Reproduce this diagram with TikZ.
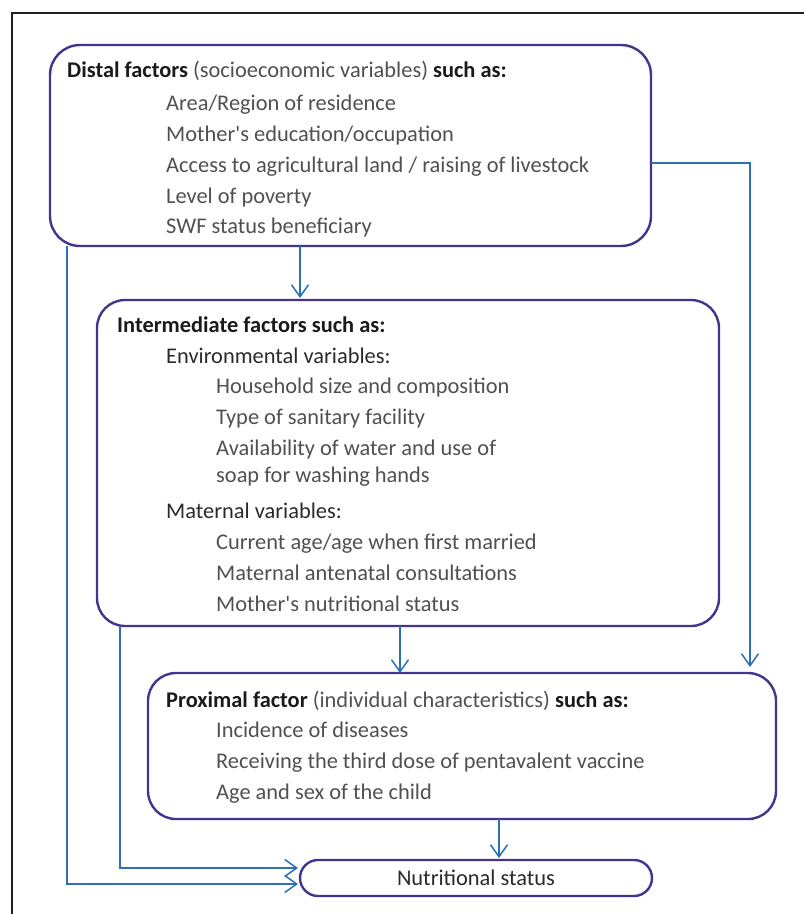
\documentclass[tikz,border=0pt]{standalone}
\usepackage{fontspec}
\setmainfont{Carlito}
\usepackage{xcolor}
\usepackage{tikz}
\usetikzlibrary{arrows.meta,positioning}
\definecolor{rim}{HTML}{231F20}
\definecolor{edge}{HTML}{43348F}
\definecolor{flow}{HTML}{2C6FB5}
\definecolor{ink}{HTML}{1A1A1A}
\definecolor{muted}{HTML}{505050}
\definecolor{dark}{HTML}{2A2A2A}
\newcommand{\bterm}[1]{\textcolor{ink}{\textbf{#1}}}
\tikzset{
  frm/.style={draw=rim, line width=2.4pt},
  box/.style={draw=edge, line width=2.4pt, rounded corners=28pt, inner sep=0pt, outer sep=0pt},
  item/.style={anchor=base west, inner sep=0pt, text=muted, font=\fontsize{22.4}{27}\selectfont},
  sub/.style={item, text=dark},
  arr/.style={draw=flow, line width=1.5pt, -{Straight Barb[length=12pt,width=17pt]}, shorten >=2pt},
}

\begin{document}
\begin{tikzpicture}[x=1pt,y=-1pt]
\useasboundingbox (0,0) rectangle (804,914);
\draw[frm] (12,914) -- (12,13) -- (804,13);

% boxes
\node[box, minimum width=601pt, minimum height=201pt, rounded corners=30pt] (distal) at (350.5,145.5) {};
\node[box, minimum width=622pt, minimum height=326pt] (inter) at (408,463) {};
\node[box, minimum width=628pt, minimum height=146pt] (prox) at (462,746) {};
\node[box, minimum width=352pt, minimum height=36pt, rounded corners=18pt,
  text=dark, font=\fontsize{22.4}{27}\selectfont] (nutr) at (476,878) {Nutritional status};

% distal text
\node[item] (dh) at (67,77) {\bterm{Distal factors} (socioeconomic variables) \bterm{such as:}};
\node[item] (d1) at (166,110) {Area/Region of residence};
\node[item] (d2) at (166,141) {Mother\textquotesingle s education/occupation};
\node[item] (d3) at (166,172) {Access to agricultural land / raising of livestock};
\node[item] (d4) at (166,203) {Level of poverty};
\node[item] (d5) at (166,233) {SWF status beneficiary};

% intermediate text
\node[item] (ih) at (117,332) {\bterm{Intermediate factors such as:}};
\node[sub] (env) at (166,363) {Environmental variables:};
\node[item] (e1) at (216,393) {Household size and composition};
\node[item] (e2) at (216,424) {Type of sanitary facility};
\node[item] (e3) at (216,455) {Availability of water and use of};
\node[item] (e4) at (216,482) {soap for washing hands};
\node[sub] (mat) at (166,518) {Maternal variables:};
\node[item] (m1) at (216,549) {Current age/age when first married};
\node[item] (m2) at (216,580) {Maternal antenatal consultations};
\node[item] (m3) at (216,611) {Mother\textquotesingle s nutritional status};

% proximal text
\node[item] (ph) at (166,707) {\bterm{Proximal factor} (individual characteristics) \bterm{such as:}};
\node[item] (p1) at (216,737) {Incidence of diseases};
\node[item] (p2) at (216,768) {Receiving the third dose of pentavalent vaccine};
\node[item] (p3) at (216,799) {Age and sex of the child};

% connectors
\draw[arr] ([xshift=-50.5pt]distal.south) -- ([xshift=-50.5pt]distal.south |- inter.north);
\draw[arr, shorten >=6pt] ([yshift=-17.5pt]distal.east) -| ([xshift=288pt]prox.north);
\draw[arr, shorten >=0pt] ([xshift=-8pt]inter.south) -- ([xshift=-8pt]inter.south |- prox.north);
\draw[arr] ([xshift=37pt]prox.south) -- ([xshift=37pt]prox.south |- nutr.north);
\draw[arr] ([xshift=17pt]distal.south west) |- ([yshift=-6pt]nutr.west);
\draw[arr] ([xshift=23pt]inter.south west) |- ([yshift=10pt]nutr.west);
\end{tikzpicture}
\end{document}
